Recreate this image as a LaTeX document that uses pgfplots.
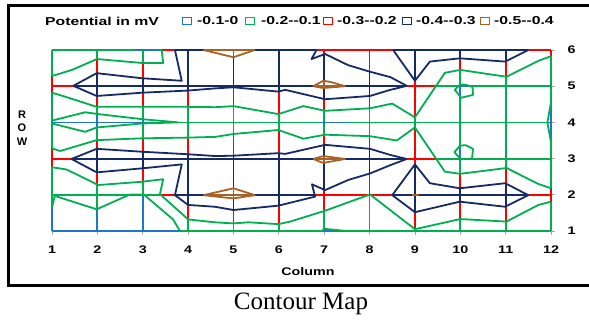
\documentclass[border=0pt]{standalone}
\usepackage{pgfplots}
\pgfplotsset{compat=1.18}
\usepackage{graphicx}
\usepackage{fontspec}
\setmainfont{Liberation Serif}
\setsansfont{Liberation Sans}
\definecolor{cB}{RGB}{31,119,200}
\definecolor{cG}{RGB}{0,176,80}
\definecolor{cR}{RGB}{255,0,0}
\definecolor{cN}{RGB}{22,42,102}
\definecolor{cBr}{RGB}{168,98,38}
\newcommand\lab[1]{\scalebox{1.3}[1]{\fontsize{11bp}{13bp}\selectfont\sffamily\bfseries #1}}
\newcommand\leg[1]{\scalebox{1.37}[1]{\fontsize{11.5bp}{13bp}\selectfont\sffamily\bfseries #1}}
\begin{document}
\begin{tikzpicture}
\begin{axis}[at={(52bp,94bp)}, anchor=south west, scale only axis,
  width=499bp, height=181bp, xmin=1, xmax=12, ymin=1, ymax=6, clip=false,
  axis x line*=bottom, axis y line*=right, axis line style={draw=none},
  xtick={1,...,12}, ytick={1,...,6},
  xticklabels={\lab{1},\lab{2},\lab{3},\lab{4},\lab{5},\lab{6},\lab{7},\lab{8},\lab{9},\lab{10},\lab{11},\lab{12}},
  yticklabels={\lab{1},\lab{2},\lab{3},\lab{4},\lab{5},\lab{6}},
  tick align=outside, major tick length=4bp, tick style={gray!70, line width=0.8bp},
  yticklabel style={xshift=9bp}, xticklabel style={yshift=-7bp},
  unbounded coords=jump,
  every axis plot/.append style={line width=1.8bp, line join=round, mark=none}]
% ---------- grid segments coloured by band ----------
\addplot[cB] coordinates {(2.8,6)(3.35,6) (1,nan) (10,5)(10.27,5) (1,nan) (1,4)(3.78,4) (1,nan) (6.9,4)(7.53,4) (1,nan) (11.93,4)(12,4) (1,nan)
 (10,3)(10.25,3) (1,nan) (2.72,2)(3.02,2) (1,nan) (1,1)(3.82,1) (1,nan) (7,1)(7.5,1) (1,nan)
 (1,1.65)(1,1) (1,nan) (1,4.05)(1,3.97) (1,nan) (2,4.23)(2,3.86) (1,nan) (2,1.6)(2,1) (1,nan) (3,4.09)(3,3.97) (1,nan) (3,2.02)(3,1) (1,nan)
 (7,4.05)(7,3.95) (1,nan) (7,1.05)(7,1) (1,nan) (10,5.06)(10,4.67) (1,nan) (10,3.36)(10,2.99) (1,nan) (12,4.55)(12,3.45)};
\addplot[cG] coordinates {(1,6)(2.8,6) (1,nan) (3.35,6)(3.42,6) (1,nan) (9.46,5)(10,5) (1,nan) (10.27,5)(12,5) (1,nan)
 (3.78,4)(6.9,4) (1,nan) (7.53,4)(11.93,4) (1,nan) (9.47,3)(10,3) (1,nan) (10.25,3)(12,3) (1,nan)
 (1,2)(2.72,2) (1,nan) (3.02,2)(3.38,2) (1,nan) (3.82,1)(7,1) (1,nan) (7.5,1)(12,1) (1,nan)
 (1,6)(1,5.28) (1,nan) (1,4.82)(1,4.05) (1,nan) (1,3.97)(1,3.28) (1,nan) (1,2.76)(1,1.65) (1,nan)
 (2,6)(2,5.75) (1,nan) (2,4.43)(2,4.23) (1,nan) (2,3.86)(2,3.51) (1,nan) (2,2.27)(2,1.6) (1,nan)
 (3,6)(3,5.64) (1,nan) (3,4.43)(3,4.09) (1,nan) (3,3.97)(3,3.56) (1,nan) (3,2.36)(3,2.02) (1,nan)
 (4,4.43)(4,3.58) (1,nan) (4,1.32)(4,1) (1,nan) (5,4.45)(5,3.68) (1,nan) (5,1.21)(5,1) (1,nan)
 (6,4.23)(6,3.79) (1,nan) (6,1.19)(6,1) (1,nan) (7,4.32)(7,4.05) (1,nan) (7,3.95)(7,3.68) (1,nan) (7,1.55)(7,1.05) (1,nan)
 (8,4.39)(8,3.6) (1,nan) (8,2.01)(8,1) (1,nan) (9,4.14)(9,3.86) (1,nan) (9,1.05)(9,1) (1,nan)
 (10,5.45)(10,5.06) (1,nan) (10,4.67)(10,3.36) (1,nan) (10,2.99)(10,2.57) (1,nan) (10,1.33)(10,1) (1,nan)
 (11,5.26)(11,2.75) (1,nan) (11,1.26)(11,1) (1,nan) (12,5.83)(12,4.55) (1,nan) (12,3.45)(12,2.18) (1,nan) (12,1.81)(12,1)};
\addplot[cR] coordinates {(3.42,6)(3.71,6) (1,nan) (6.83,6)(8.52,6) (1,nan) (11.5,6)(12,6) (1,nan)
 (1,5)(1.47,5) (1,nan) (8.82,5)(9.46,5) (1,nan) (1,3)(1.43,3) (1,nan) (8.82,3)(9.47,3) (1,nan)
 (3.38,2)(3.71,2) (1,nan) (6.78,2)(8.5,2) (1,nan) (11.5,2)(12,2) (1,nan)
 (1,5.28)(1,4.82) (1,nan) (1,3.28)(1,2.76) (1,nan)
 (2,5.75)(2,5.36) (1,nan) (2,4.73)(2,4.43) (1,nan) (2,3.51)(2,3.27) (1,nan) (2,2.62)(2,2.27) (1,nan)
 (3,5.64)(3,5.22) (1,nan) (3,4.82)(3,4.43) (1,nan) (3,3.56)(3,3.19) (1,nan) (3,2.73)(3,2.36) (1,nan)
 (4,4.88)(4,4.43) (1,nan) (4,3.58)(4,3.12) (1,nan) (4,1.72)(4,1.32) (1,nan)
 (5,4.97)(5,4.45) (1,nan) (5,3.68)(5,3.08) (1,nan) (5,1.58)(5,1.21) (1,nan)
 (6,4.85)(6,4.23) (1,nan) (6,3.79)(6,3.15) (1,nan) (6,1.70)(6,1.19) (1,nan)
 (7,6)(7,5.89) (1,nan) (7,4.64)(7,4.32) (1,nan) (7,3.68)(7,3.38) (1,nan) (7,2.13)(7,1.55) (1,nan)
 (8,6)(8,5.4) (1,nan) (8,4.73)(8,4.39) (1,nan) (8,3.6)(8,3.26) (1,nan) (8,2.59)(8,2.01) (1,nan)
 (9,5.15)(9,4.14) (1,nan) (9,3.86)(9,2.84) (1,nan) (9,1.52)(9,1.05) (1,nan)
 (10,5.77)(10,5.45) (1,nan) (10,2.57)(10,2.18) (1,nan) (10,1.81)(10,1.33) (1,nan)
 (11,5.68)(11,5.26) (1,nan) (11,2.75)(11,2.32) (1,nan) (11,1.67)(11,1.26) (1,nan)
 (12,6)(12,5.83) (1,nan) (12,2.18)(12,1.81)};
\addplot[cN] coordinates {(3.71,6)(4.34,6) (1,nan) (5.47,6)(6.83,6) (1,nan) (8.52,6)(11.5,6) (1,nan)
 (1.47,5)(6.76,5) (1,nan) (7.46,5)(8.82,5) (1,nan) (1.43,3)(6.76,3) (1,nan) (7.46,3)(8.82,3) (1,nan)
 (3.71,2)(4.34,2) (1,nan) (5.47,2)(6.78,2) (1,nan) (8.5,2)(11.5,2) (1,nan)
 (2,5.36)(2,4.73) (1,nan) (2,3.27)(2,2.62) (1,nan) (3,5.22)(3,4.82) (1,nan) (3,3.19)(3,2.73) (1,nan)
 (4,6)(4,4.88) (1,nan) (4,3.12)(4,1.72) (1,nan) (5,5.8)(5,4.97) (1,nan) (5,3.08)(5,2.18) (1,nan) (5,1.9)(5,1.58) (1,nan)
 (6,6)(6,4.85) (1,nan) (6,3.15)(6,1.70) (1,nan)
 (7,5.89)(7,5.15) (1,nan) (7,4.94)(7,4.64) (1,nan) (7,3.38)(7,3.07) (1,nan) (7,2.87)(7,2.13) (1,nan)
 (8,5.4)(8,4.73) (1,nan) (8,3.26)(8,2.59) (1,nan) (9,6)(9,5.15) (1,nan) (9,2.84)(9,1.52) (1,nan)
 (10,6)(10,5.77) (1,nan) (10,2.18)(10,1.81) (1,nan) (11,6)(11,5.68) (1,nan) (11,2.32)(11,1.67)};
\addplot[cBr] coordinates {(4.34,6)(5.47,6) (1,nan) (6.76,5)(7.46,5) (1,nan) (6.76,3)(7.46,3) (1,nan)
 (4.34,2)(5.47,2) (1,nan) (8.93,2)(9.09,2) (1,nan) (5,6)(5,5.8) (1,nan) (5,2.18)(5,1.9) (1,nan)
 (7,5.15)(7,4.94) (1,nan) (7,3.07)(7,2.87)};
% ---------- contour lines ----------
\addplot[cG] coordinates {(1,5.28)(1.44,5.45)(1.99,5.75)(3.0,5.64)(3.45,5.64)(3.42,6)};
\addplot[cG] coordinates {(1,4.82)(1.29,4.71)(1.985,4.43)(2.98,4.43)(4.0,4.43)(4.6,4.42)(5.0,4.45)(5.99,4.23)(6.54,4.45)(7.02,4.32)(8.01,4.39)(8.5,4.52)(9.0,4.14)(9.66,5.37)(10.0,5.45)(11.02,5.26)(11.72,5.70)(12,5.83)};
\addplot[cG] coordinates {(1,4.05)(1.73,4.28)(2.02,4.23)(2.98,4.09)(3.78,4.0)(2.98,3.97)(1.985,3.86)(1.73,3.74)(1,3.97)};
\addplot[cG] coordinates {(1,3.28)(1.18,3.21)(1.985,3.51)(2.98,3.56)(4.0,3.58)(4.6,3.6)(5.0,3.68)(5.99,3.79)(6.54,3.55)(7.02,3.66)(8.01,3.62)(8.6,3.5)(9.0,3.86)(9.66,2.64)(10.0,2.58)(11.02,2.74)(11.72,2.3)(12,2.18)};
\addplot[cG] coordinates {(1,2.76)(1.32,2.70)(2.02,2.27)(2.98,2.36)(3.45,2.43)(3.38,2.02)(4.0,1.32)(4.59,1.24)(5.0,1.21)(5.33,1.24)(5.99,1.19)(6.25,1.26)(7.02,1.56)(8.01,2.01)(9.0,1.05)(10.0,1.33)(11.02,1.26)(11.72,1.72)(12,1.81)};
\addplot[cG] coordinates {(1,1.65)(1.06,1.97)(1.985,1.6)(2.72,2.01)(3.02,2.01)(3.67,1.32)(3.82,1.0)};
\addplot[cG] coordinates {(6.95,1.0)(7.0,1.06)(7.5,1.0)};
\addplot[cG] coordinates {(10,5.05)(9.88,4.9)(10.02,4.68)(10.28,4.76)(10.27,4.98)(10.12,5.04)(10,5.05)};
\addplot[cG] coordinates {(10,3.36)(9.87,3.18)(10,2.99)(10.26,3.0)(10.28,3.27)(10.12,3.37)(10,3.36)};
\addplot[cG] coordinates {(12,4.55)(11.92,4.0)(12,3.45)};
\addplot[cN] coordinates {(3.71,6)(3.86,5.15)(2.98,5.22)(1.985,5.36)(1.47,5.01)(1.985,4.73)(2.98,4.82)(4.0,4.88)(4.6,4.94)(5.0,4.97)(5.99,4.85)(6.14,4.9)(7.02,4.64)(8.01,4.73)(8.46,4.9)(8.82,5.01)(8.46,5.25)(8.01,5.40)(7.53,5.58)(7.02,5.89)(6.72,5.75)(6.83,6)};
\addplot[cN] coordinates {(8.52,6)(9.0,5.15)(9.33,5.68)(9.99,5.77)(10.99,5.68)(11.5,6)};
\addplot[cN] coordinates {(1.43,2.99)(1.985,3.27)(2.98,3.19)(4.0,3.12)(4.6,3.07)(5.0,3.08)(5.99,3.15)(6.14,3.13)(7.02,3.38)(8.01,3.27)(8.46,3.1)(8.82,2.99)(8.46,2.82)(8.01,2.59)(7.53,2.41)(7.02,2.13)(6.73,2.29)(6.8,1.95)(5.99,1.70)(5.0,1.58)(4.59,1.67)(4.0,1.72)(3.71,1.99)(3.86,2.84)(2.98,2.73)(1.985,2.62)(1.43,2.99)};
\addplot[cN] coordinates {(8.5,1.99)(9.0,2.84)(9.33,2.32)(9.99,2.18)(10.99,2.32)(11.5,1.99)(10.99,1.67)(9.99,1.81)(9.0,1.52)(8.5,1.99)};
\addplot[cBr] coordinates {(4.34,6)(5,5.8)(5.47,6)};
\addplot[cBr] coordinates {(6.76,5.0)(6.98,5.15)(7.13,5.12)(7.46,5.0)(6.98,4.95)(6.76,5.0)};
\addplot[cBr] coordinates {(6.76,2.99)(6.98,3.07)(7.46,2.99)(6.98,2.88)(6.76,2.99)};
\addplot[cBr] coordinates {(4.34,1.99)(5.0,2.18)(5.47,1.99)(5.0,1.9)(4.34,1.99)};
\end{axis}
\begin{scope}[x=1bp,y=1bp]
\node[anchor=west, inner sep=0] at (45,304) {\leg{Potential in mV}};
\draw[cB, line width=1.8bp] (182.5,300.5) rectangle (191.5,307.5);
\node[anchor=west, inner sep=0] at (197,304) {\leg{-0.1-0}};
\draw[cG, line width=1.8bp] (245.5,300.5) rectangle (254.5,307.5);
\node[anchor=west, inner sep=0] at (261,304) {\leg{-0.2-{}-0.1}};
\draw[cR, line width=1.8bp] (323.5,300.5) rectangle (332.5,307.5);
\node[anchor=west, inner sep=0] at (337,304) {\leg{-0.3-{}-0.2}};
\draw[cN, line width=1.8bp] (402.5,300.5) rectangle (411.5,307.5);
\node[anchor=west, inner sep=0] at (416,304) {\leg{-0.4-{}-0.3}};
\draw[cBr, line width=1.8bp] (480.5,300.5) rectangle (489.5,307.5);
\node[anchor=west, inner sep=0] at (494,304) {\leg{-0.5-{}-0.4}};
\node[inner sep=0] at (308,53) {\lab{Column}};
\node[inner sep=0, align=center, font=\fontsize{11bp}{13.5bp}\selectfont\sffamily\bfseries] at (22,197) {R\\O\\W};
\draw[black, line width=2.8bp] (8.5,319.5) rectangle (592,39.5);
\node[inner sep=0] at (301,21) {\fontsize{25bp}{28bp}\selectfont Contour Map};
\pgfresetboundingbox
\useasboundingbox (0,0) rectangle (589,325);
\end{scope}
\end{tikzpicture}
\end{document}
